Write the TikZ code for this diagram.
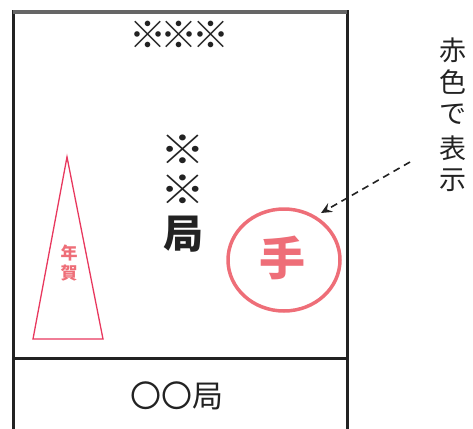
\documentclass[tikz,border=0pt]{standalone}
\usepackage{fontspec}
\setmainfont{Noto Sans CJK JP}
\usetikzlibrary{arrows.meta,shapes.geometric}
\definecolor{stampred}{HTML}{EE6E78}
\definecolor{trired}{HTML}{E8385E}
\definecolor{boxline}{HTML}{222222}
\tikzset{
  frame/.style={draw=boxline, line width=3pt},
  redtxt/.style={text=stampred, inner sep=0pt},
  blk/.style={text=boxline, inner sep=0pt},
  labelchar/.style={blk, font=\fontsize{27}{27}\selectfont},
}
\begin{document}
\begin{tikzpicture}[x=1pt,y=-1pt]
\useasboundingbox (0,0) rectangle (473,428);
% frame
\draw[frame] (13,440) -- (13,12) -- (347,12) -- (347,440);
\draw[draw=gray!80!black, line width=3.5pt] (13,12) -- (347,12);
\draw[frame] (13,358) -- (347,358);
% texts
\node[blk, font=\fontsize{37}{37}\selectfont] (top) at (179,35) {※\kern-5.5pt※\kern-5.5pt※};
\node[blk, font=\fontsize{40}{40}\selectfont\bfseries\addfontfeature{FakeStretch=1.12}, align=center] (marks) at (183,170) {※\\※};
\node[blk, font=\fontsize{40}{40}\selectfont\bfseries] (kyoku) at (183,234) {局};
\node[blk, font=\fontsize{31}{31}\selectfont] (bottom) at (177,396) {〇〇局};
% triangle
\draw[trired, line width=1.3pt] (67,157) -- (103,339) -- (33,339) -- cycle;
\node[redtxt, font=\fontsize{17}{20}\selectfont\bfseries, align=center] (nenga) at (69,263) {年\\賀};
% stamp
\node[draw=stampred, line width=3.5pt, ellipse, minimum width=112pt, minimum height=102pt, inner sep=0pt] (stamp) at (284,260) {};
\node[redtxt, font=\fontsize{46}{46}\selectfont\bfseries] (te) at (282,258) {手};
% label
\node[labelchar] (c1) at (453,50) {赤};
\node[labelchar] (c2) at (453,82) {色};
\node[labelchar] (c3) at (453,114) {で};
\node[labelchar] (c4) at (453,148) {表};
\node[labelchar] (c5) at (453,180) {示};
\coordinate (as) at (410,162);
\coordinate (ae) at (321,213);
\draw[boxline, line width=1.6pt, dash pattern=on 7pt off 5pt, -{Stealth[length=11pt,width=10pt,inset=4pt]}] (as) -- (ae);
\end{tikzpicture}
\end{document}
